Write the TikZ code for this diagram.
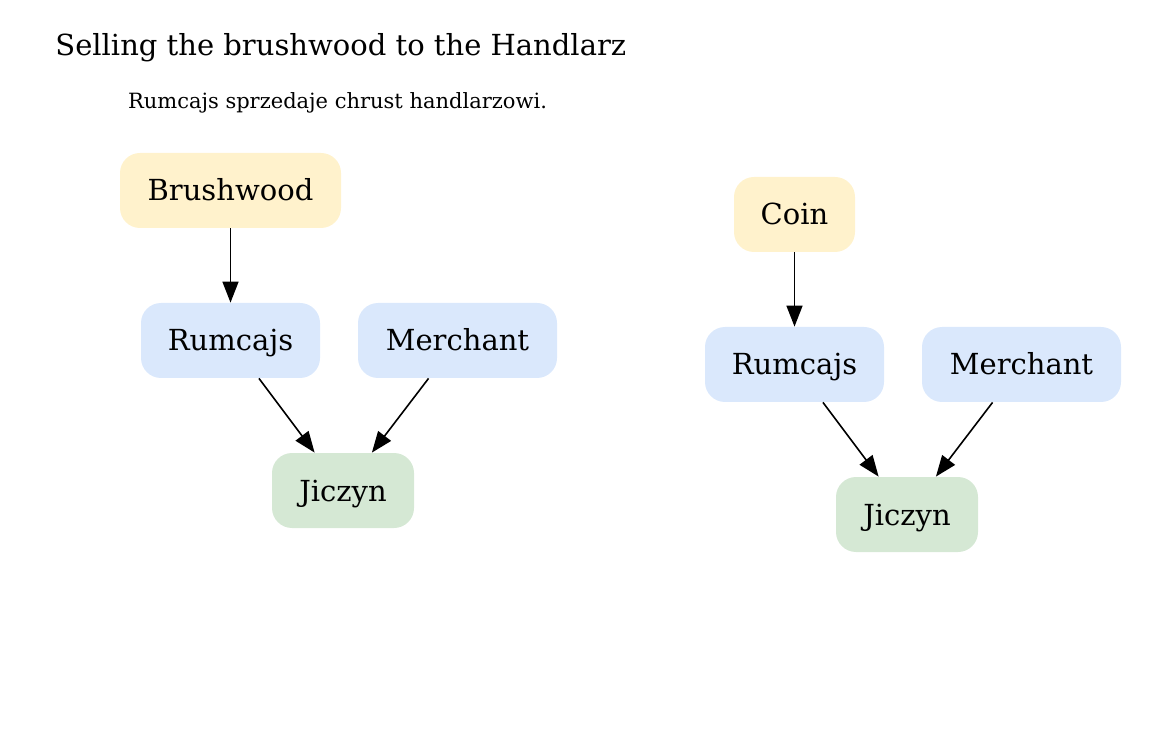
\documentclass[tikz,border=0pt]{standalone}
\usepackage{fontspec}
\setmainfont{DejaVu Serif}
\usetikzlibrary{arrows.meta}
\definecolor{sand}{HTML}{FFF2CC}
\definecolor{sky}{HTML}{DAE8FC}
\definecolor{sage}{HTML}{D5E8D4}

\begin{document}
\begin{tikzpicture}[x=0.5pt,y=-0.5pt,
  mybox/.style={rounded corners=10pt,minimum height=37.5pt,inner sep=0pt,text height=12pt,text depth=1.5pt,font=\fontsize{14.5}{17}\selectfont},
  myarrow/.style={-{Triangle[length=10.5pt,width=8pt]},line width=0.8pt}]
\useasboundingbox (0,0) rectangle (1149,731);
\node[anchor=west,inner sep=0pt,font=\fontsize{14.5}{17}\selectfont] (title) at (55,48) {Selling the brushwood to the Handlarz};
\node[font=\fontsize{10.5}{13}\selectfont] (subtitle) at (337.5,103) {Rumcajs sprzedaje chrust handlarzowi.};
  \foreach \nm/\txt/\clr/\bw/\x/\y in {brushwood/Brushwood/sand/110.5/230.5/190.5,
    rumcajsL/Rumcajs/sky/89.5/230.5/340.5, merchantL/Merchant/sky/99.5/457.5/340.5,
    jiczynL/Jiczyn/sage/71/343/490.5, coin/Coin/sand/60.5/794.5/214.5,
    rumcajsR/Rumcajs/sky/89.5/794.5/364.5, merchantR/Merchant/sky/99.5/1021.5/364.5,
    jiczynR/Jiczyn/sage/71/907/514.5}
  {  \node [mybox,fill=\clr,minimum width=\bw pt] (\nm) at (\x,\y) {\txt};}
\draw[myarrow] (brushwood) -- (rumcajsL);
\draw[myarrow] (rumcajsL) -- (jiczynL);
\draw[myarrow] (merchantL) -- (jiczynL);
\draw[myarrow] (coin) -- (rumcajsR);
\draw[myarrow] (rumcajsR) -- (jiczynR);
\draw[myarrow] (merchantR) -- (jiczynR);
\end{tikzpicture}
\end{document}
